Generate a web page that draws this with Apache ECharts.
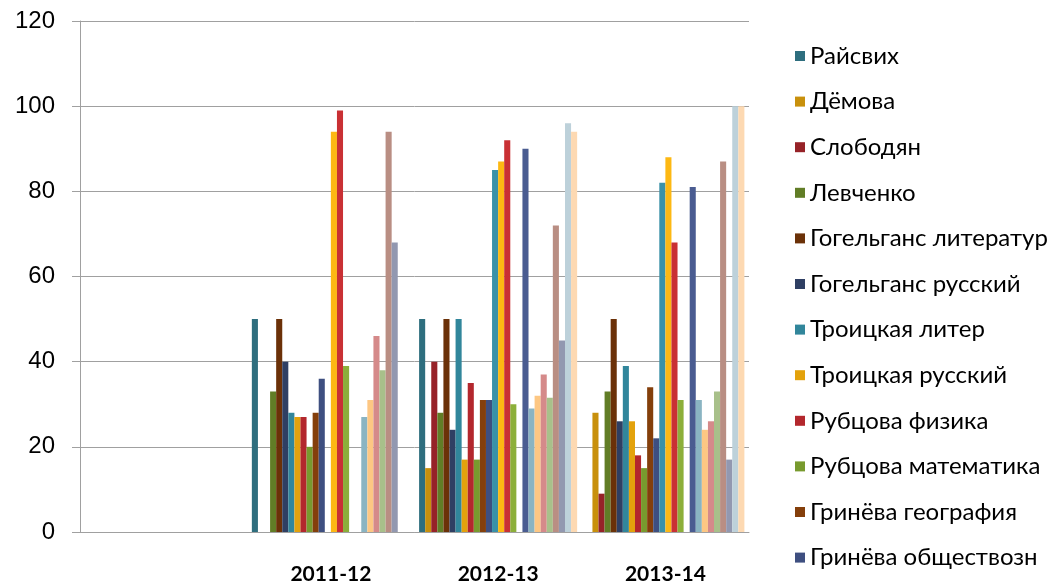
<!DOCTYPE html>
<html>
<head>
<meta charset="utf-8">
<script src="https://cdn.jsdelivr.net/npm/echarts@6/dist/echarts.min.js"></script>
<style>
  html, body { margin: 0; padding: 0; background: #fff; }
  #chart { width: 1061px; height: 585px; }
</style>
</head>
<body>
<div id="chart"></div>
<script>
// categories (first slot is empty in the original)
var years = ['', '2011-12', '2012-13', '2013-14'];

// series names (only the first 12 fit in the legend)
var names = [
  'Райсвих', 'Дёмова', 'Слободян', 'Левченко',
  'Гогельганс литератур', 'Гогельганс русский',
  'Троицкая литер', 'Троицкая русский',
  'Рубцова физика', 'Рубцова математика',
  'Гринёва география', 'Гринёва обществозн',
  'Серия 13', 'Серия 14', 'Серия 15', 'Серия 16', 'Серия 17',
  'Серия 18', 'Серия 19', 'Серия 20', 'Серия 21', 'Серия 22',
  'Серия 23', 'Серия 24', 'Серия 25', 'Серия 26'
];

var colors = [
  '#2E6E7E', '#C8900C', '#962228', '#617D26', '#6B3108', '#2F3F63',
  '#31869B', '#E3A20C', '#B3272D', '#789A2E', '#843F0B', '#3E4F80',
  '#3A91A8', '#FDB813', '#C93034', '#8CAF3A', '#A55A1E', '#4A5C91',
  '#8AB4C2', '#FDC783', '#D58A8A', '#A8C08A', '#B98E83', '#9298B0',
  '#BDD1DA', '#FDD9B2'
];

// values per series: [empty, 2011-12, 2012-13, 2013-14]
var values = [
  ['-', 50, 50, '-'],
  ['-', '-', 15, 28],
  ['-', '-', 40, 9],
  ['-', 33, 28, 33],
  ['-', 50, 50, 50],
  ['-', 40, 24, 26],
  ['-', 28, 50, 39],
  ['-', 27, 17, 26],
  ['-', 27, 35, 18],
  ['-', 20, 17, 15],
  ['-', 28, 31, 34],
  ['-', 36, 31, 22],
  ['-', '-', 85, 82],
  ['-', 94, 87, 88],
  ['-', 99, 92, 68],
  ['-', 39, 30, 31],
  ['-', '-', '-', '-'],
  ['-', '-', 90, 81],
  ['-', 27, 29, 31],
  ['-', 31, 32, 24],
  ['-', 46, 37, 26],
  ['-', 38, 31.5, 33],
  ['-', 94, 72, 87],
  ['-', 68, 45, 17],
  ['-', '-', 96, 100],
  ['-', '-', 94, 100]
];

var yTicks = [0, 20, 40, 60, 80, 100, 120];

var chart = echarts.init(document.getElementById('chart'));

var series = names.map(function (n, i) {
  return {
    name: n,
    type: 'bar',
    barGap: '0%',
    barCategoryGap: '5.5%',
    itemStyle: { color: colors[i] },
    data: values[i]
  };
});

var option = {
  animation: false,
  color: colors,
  grid: { left: 80, right: 312, top: 21, bottom: 53 },
  legend: {
    orient: 'vertical',
    left: 790,
    top: 39,
    itemWidth: 10,
    itemHeight: 10,
    itemGap: 21.6,
    icon: 'rect',
    data: names.slice(0, 12),
    textStyle: { fontFamily: 'Lato', fontSize: 24, color: '#000', lineHeight: 24 }
  },
  xAxis: {
    type: 'category',
    data: years,
    axisLine: { lineStyle: { color: '#A0A0A0' } },
    axisTick: { length: 6, lineStyle: { color: '#A0A0A0' } },
    axisLabel: { margin: 32, fontFamily: 'Lato', fontWeight: 'bold', fontSize: 21, color: '#000' }
  },
  yAxis: {
    type: 'value',
    min: yTicks[0],
    max: yTicks[yTicks.length - 1],
    interval: 20,
    axisLine: { show: true, lineStyle: { color: '#A0A0A0' } },
    axisTick: { show: true, length: 8, lineStyle: { color: '#A0A0A0' } },
    axisLabel: { margin: 25, fontFamily: 'Liberation Sans', fontSize: 24, color: '#000' },
    splitLine: { lineStyle: { color: '#A0A0A0' } }
  },
  series: series
};

chart.setOption(option);
</script>
</body>
</html>
